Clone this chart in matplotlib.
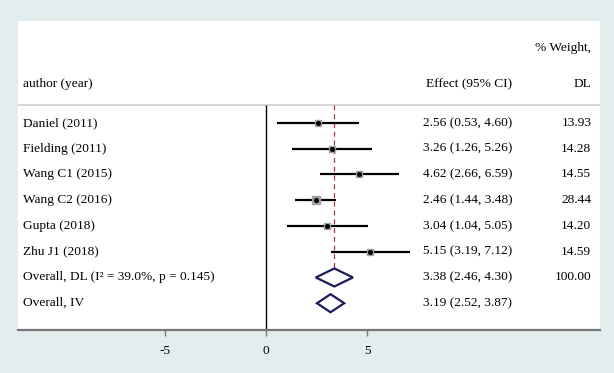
import numpy as np
import matplotlib.pyplot as plt
from matplotlib.patches import Polygon

# Study data
studies = ['Daniel (2011)', 'Fielding (2011)', 'Wang C1 (2015)', 'Wang C2 (2016)',
           'Gupta (2018)', 'Zhu J1 (2018)']
effect = [2.56, 3.26, 4.62, 2.46, 3.04, 5.15]
ci_low = [0.53, 1.26, 2.66, 1.44, 1.04, 3.19]
ci_high = [4.60, 5.26, 6.59, 3.48, 5.05, 7.12]
weight = [13.93, 14.28, 14.55, 28.44, 14.20, 14.59]

# Pooled estimates
pooled_labels = ['Overall, DL (I\u00b2 = 39.0%, p = 0.145)', 'Overall, IV']
pooled_est = [3.38, 3.19]
pooled_low = [2.46, 2.52]
pooled_high = [4.30, 3.87]
pooled_weight = ['100.00', '']

xticks = [-5, 0, 5]

plt.rcParams['font.family'] = ['Liberation Serif', 'DejaVu Serif']
plt.rcParams['font.size'] = 9.6

bg = '#e2eded'
fig = plt.figure(figsize=(6.14, 3.73), dpi=100, facecolor=bg)
W, H = 614, 373
ax = fig.add_axes([18 / W, (H - 330) / H, (600 - 18) / W, (330 - 21) / H])
ax.set_facecolor('white')

ax.set_xlim(-12.28, 16.53)
ax.set_ylim(8.04, -3.96)

header_y = -0.70
x_label = -12.05
x_eff = 7.77
x_wt = 16.1

# header
ax.axhline(header_y, color='#d0d0d0', lw=1.2)
ax.text(x_label, -1.51, 'author (year)', va='center', ha='left')
ax.text(12.2, -1.51, 'Effect (95% CI)', va='center', ha='right')
ax.text(x_wt, -2.91, '% Weight,', va='center', ha='right')
ax.text(x_wt, -1.51, 'DL', va='center', ha='right')

# null line
ax.vlines(0, header_y, 8.04, color='black', lw=1.0)

# pooled DL dashed line
n = len(studies)
ax.vlines(pooled_est[0], header_y, n + 0.36, color='#a0403a', lw=0.9,
          linestyles=(0, (4, 3)))

for i in range(n):
    ax.plot([ci_low[i], ci_high[i]], [i, i], color='black', lw=1.6,
            solid_capstyle='butt', zorder=3)
    ms = 8 * 0.72 * np.sqrt(weight[i] / 28.44)
    ax.plot(effect[i], i, marker='s', ms=ms, color='#a0a0a0', mec='#a0a0a0', zorder=4)
    ax.plot(effect[i], i, marker='o', ms=2.6, color='black', zorder=5)
    ax.text(x_label, i, studies[i], va='center', ha='left')
    ax.text(x_eff, i, f'{effect[i]:.2f} ({ci_low[i]:.2f}, {ci_high[i]:.2f})',
            va='center', ha='left')
    ax.text(x_wt, i, f'{weight[i]:.2f}', va='center', ha='right')

h = 0.35
for j in range(len(pooled_labels)):
    y = n + j
    poly = Polygon([(pooled_low[j], y), (pooled_est[j], y - h),
                    (pooled_high[j], y), (pooled_est[j], y + h)],
                   closed=True, facecolor='white', edgecolor='#1c1c5c', lw=1.6, zorder=4)
    ax.add_patch(poly)
    ax.text(x_label, y, pooled_labels[j], va='center', ha='left')
    ax.text(x_eff, y, f'{pooled_est[j]:.2f} ({pooled_low[j]:.2f}, {pooled_high[j]:.2f})',
            va='center', ha='left')
    ax.text(x_wt, y, pooled_weight[j], va='center', ha='right')

for s in ['top', 'right', 'left']:
    ax.spines[s].set_visible(False)
ax.spines['bottom'].set_color('#777777')
ax.spines['bottom'].set_linewidth(1.6)
ax.set_yticks([])
ax.set_xticks(xticks)
ax.set_xticklabels([str(t) for t in xticks])
ax.tick_params(axis='x', direction='out', length=4, width=1, color='#777777', pad=7)

fig.savefig('out.png', dpi=100, facecolor=bg)
